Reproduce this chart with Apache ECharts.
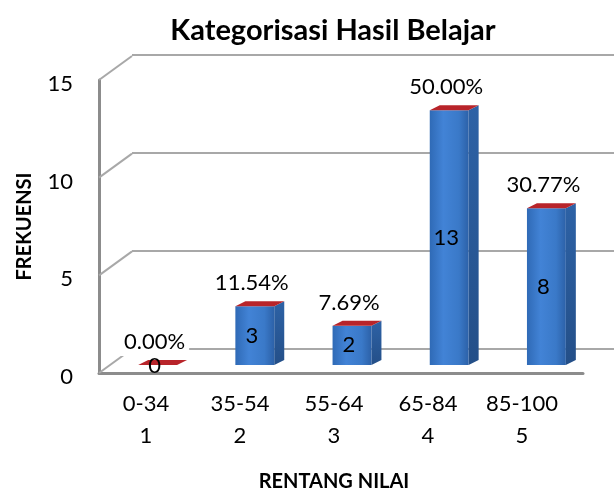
<!DOCTYPE html>
<html><head><meta charset="utf-8">
<script src="https://cdn.jsdelivr.net/npm/echarts@6/dist/echarts.min.js"></script>
<style>html,body{margin:0;padding:0;background:#fff}#c{width:614px;height:497px}</style>
</head><body><div id="c"></div>
<script>
const categories = ['0-34', '35-54', '55-64', '65-84', '85-100'];
const codes = ['1', '2', '3', '4', '5'];
const frequencies = [0, 3, 2, 13, 8];
const percents = ['0.00%', '11.54%', '7.69%', '50.00%', '30.77%'];
const yTicks = [0, 5, 10, 15];

const FONT = 'Lato';
const DEPTH_X = 33, DEPTH_Y = 24;   // perspective offset front -> back wall
const BAR_DX = 10, BAR_DY = 5;      // bar depth

const chart = echarts.init(document.getElementById('c'), null, {renderer: 'canvas'});

function renderBar(params, api) {
  const i = api.value(0), v = api.value(1);
  const b = api.coord([i, 0]), t = api.coord([i, v]);
  const w = api.size([1, 0])[0] * 0.4;
  const x0 = b[0] - w / 2, x1 = b[0] + w / 2, yb = b[1], yt = t[1];
  const children = [];
  if (yb - yt > 0.5) {
    children.push({
      type: 'polygon',
      shape: {points: [[x1, yt], [x1 + BAR_DX, yt - BAR_DY], [x1 + BAR_DX, yb - BAR_DY], [x1, yb]]},
      style: {fill: new echarts.graphic.LinearGradient(0, 0, 0, 1, [
        {offset: 0, color: '#2d62a6'}, {offset: 1, color: '#244f88'}])}
    });
    children.push({
      type: 'rect',
      shape: {x: x0, y: yt, width: w, height: yb - yt},
      style: {fill: new echarts.graphic.LinearGradient(0, 0, 1, 0, [
        {offset: 0, color: '#2f6ab6'}, {offset: 0.35, color: '#4283d6'},
        {offset: 0.75, color: '#3a79c8'}, {offset: 1, color: '#2c61a8'}])}
    });
  }
  children.push({
    type: 'polygon',
    shape: {points: [[x0, yt], [x1, yt], [x1 + BAR_DX, yt - BAR_DY], [x0 + BAR_DX, yt - BAR_DY]]},
    style: {fill: '#b8242a'}
  });
  children.push({
    type: 'text',
    style: {text: String(v), x: b[0] - 3, y: (yt + yb) / 2 + (v === 0 ? 1 : 0),
      align: 'center', verticalAlign: 'middle', fill: '#000', font: '22px ' + FONT}
  });
  children.push({
    type: 'text',
    style: {text: percents[i], x: b[0] - 3, y: yt - 23, align: 'center', verticalAlign: 'middle',
      fill: '#000', font: '22px ' + FONT, backgroundColor: '#fff', padding: [3, 4]}
  });
  return {type: 'group', children};
}

function renderConnector(params, api) {
  const p = api.coord([0, api.value(1)]);
  return {
    type: 'line',
    shape: {x1: p[0], y1: p[1], x2: p[0] + DEPTH_X, y2: p[1] - DEPTH_Y},
    style: {stroke: '#a8a8a8', lineWidth: 2}
  };
}

const option = {
  backgroundColor: '#fff',
  animation: false,
  title: {
    text: 'Kategorisasi Hasil Belajar', left: 328, top: 11, textAlign: 'center',
    textStyle: {fontFamily: FONT, fontWeight: 'bold', fontSize: 29, color: '#000'}
  },
  grid: [
    {left: 109, right: 19, top: 71, bottom: 132},   // bars plane
    {left: 99, right: 31, top: 80, bottom: 124},    // front frame
    {left: 99, right: 45, top: 80, bottom: 124},    // category labels
    {left: 132, right: 0, top: 55, bottom: 148}     // back wall
  ],
  xAxis: [
    {gridIndex: 0, type: 'category', data: categories, show: false},
    {gridIndex: 1, type: 'value', min: 0, max: 1, axisLine: {show: true, lineStyle: {color: '#8c8c8c', width: 3}},
      axisLabel: {show: false}, axisTick: {show: false}, splitLine: {show: false}},
    {gridIndex: 2, type: 'category', data: categories.map((c, i) => c + '\n' + codes[i]),
      axisLine: {show: false}, axisTick: {show: false},
      axisLabel: {margin: 19, lineHeight: 32, fontFamily: FONT, fontSize: 22, color: '#000'},
      name: 'RENTANG NILAI', nameLocation: 'middle', nameGap: 103, nameMoveOverlap: false,
      nameTextStyle: {fontFamily: FONT, fontWeight: 'bold', fontSize: 20, color: '#000'}},
    {gridIndex: 3, type: 'value', min: 0, max: 1, show: false}
  ],
  yAxis: [
    {gridIndex: 0, type: 'value', min: 0, max: 15, interval: 5, show: false},
    {gridIndex: 1, type: 'value', min: 0, max: 15, interval: 5,
      axisLine: {show: true, lineStyle: {color: '#8c8c8c', width: 3}}, axisTick: {show: false},
      splitLine: {show: false},
      axisLabel: {margin: 26, verticalAlign: 'top', lineHeight: 8, fontFamily: FONT, fontSize: 22, color: '#000'},
      name: 'FREKUENSI', nameLocation: 'middle', nameGap: 64, nameRotate: 90,
      nameTextStyle: {fontFamily: FONT, fontWeight: 'bold', fontSize: 20, color: '#000'}},
    {gridIndex: 2, type: 'value', min: 0, max: 15, show: false},
    {gridIndex: 3, type: 'value', min: 0, max: 15, interval: 5,
      axisLine: {show: false}, axisTick: {show: false}, axisLabel: {show: false},
      splitLine: {show: true, lineStyle: {color: '#a8a8a8', width: 2}}}
  ],
  series: [
    {type: 'custom', xAxisIndex: 1, yAxisIndex: 1, z: 1, renderItem: renderConnector,
      data: yTicks.map(v => [0, v]), silent: true},
    {type: 'custom', xAxisIndex: 0, yAxisIndex: 0, z: 3, renderItem: renderBar, clip: false,
      data: frequencies.map((v, i) => [i, v])}
  ]
};
chart.setOption(option);
</script></body></html>
